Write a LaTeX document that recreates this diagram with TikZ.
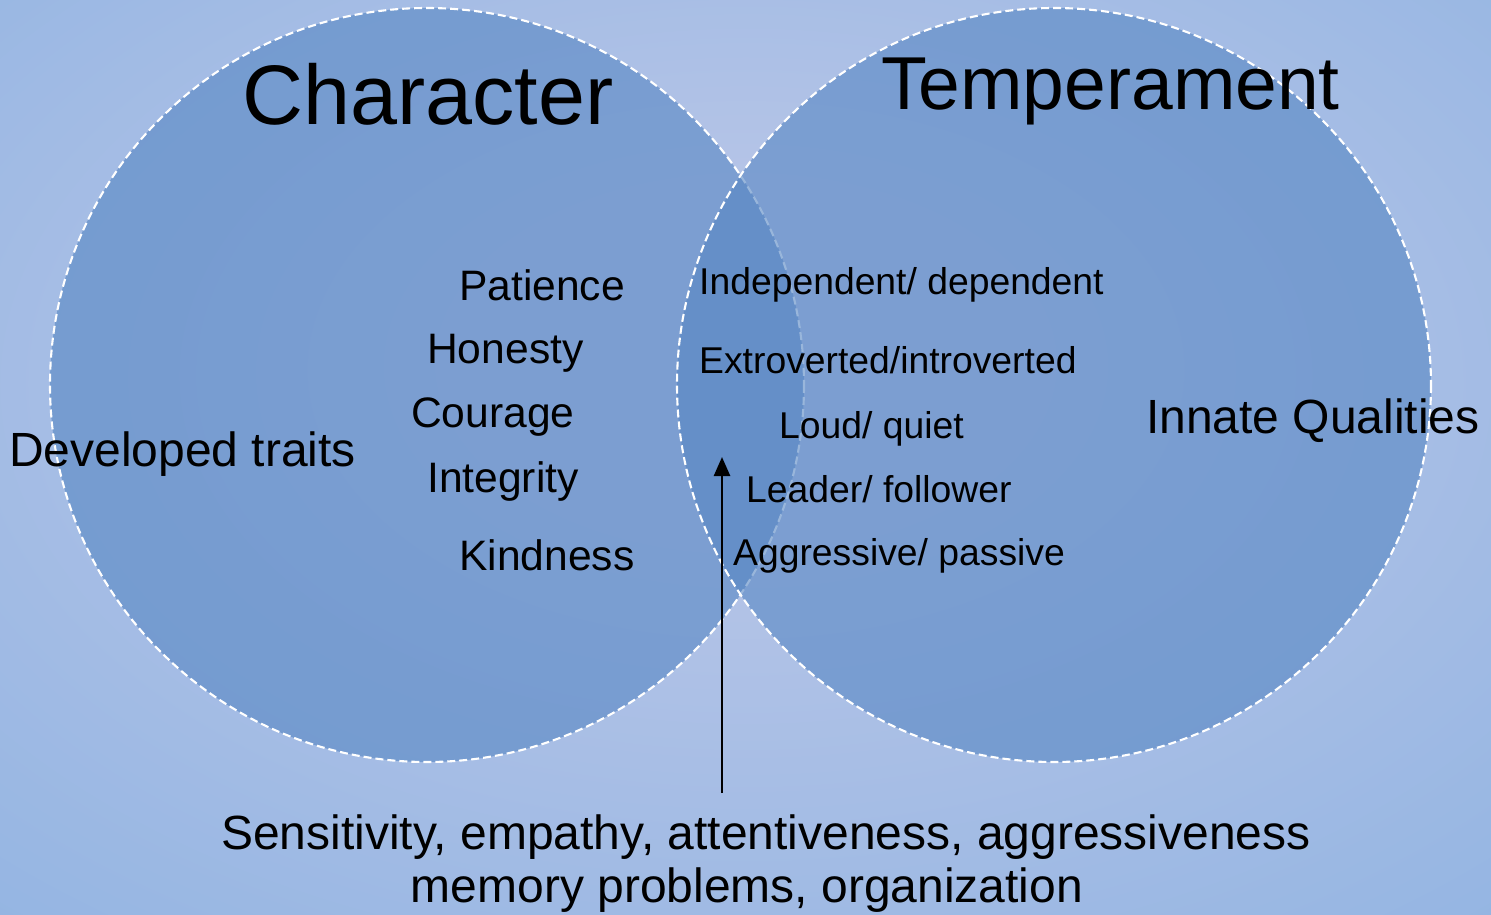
\documentclass[tikz,border=0pt]{standalone}
\usepackage{fontspec}
\setmainfont{Liberation Sans}
\usetikzlibrary{arrows.meta}

\definecolor{bgin}{RGB}{181,196,231}
\definecolor{bgout}{RGB}{146,180,226}
\definecolor{bgcorner}{RGB}{118,150,204}
\definecolor{circfill}{RGB}{86,134,195}

\pgfdeclareradialshading{slidebg}{\pgfpoint{0bp}{6bp}}{color(0bp)=(bgin); color(10bp)=(bgin); color(40bp)=(bgout); color(58bp)=(bgout); color(74bp)=(bgcorner)}

\begin{document}
\begin{tikzpicture}[x=1pt, y=-1pt,
		venn/.style={draw=white, line width=2.1pt, dash pattern=on 8pt off 4pt, fill=circfill, fill opacity=0.6},
		label/.style={inner sep=0pt, anchor=base west},
		item/.style={label, font=\fontsize{42.6}{50}\selectfont},
		quality/.style={label, font=\fontsize{37.3}{44}\selectfont}]
			\def\r{377};

			\useasboundingbox (0,0) rectangle (1491,915);
			\shade[shading=slidebg] (0,0) rectangle (1491,915);

			% the two sets
			\draw[venn] (427,385) circle (\r);
			\draw[venn] (1054,385) circle (\r);

			\node[label, font=\fontsize{84.5}{96}\selectfont] (character) at (242,125) {Character};
			\node[label, font=\fontsize{75}{84}\selectfont] (temperament) at (881,110) {Temperament};

			\node[label, font=\fontsize{48}{56}\selectfont] (developed) at (9,466) {Developed traits};
			\node[label, font=\fontsize{48}{56}\selectfont] (innate) at (1146,433) {Innate Qualities};

			\foreach \x/\y/\t [count=\i] in {459/300/Patience, 427/363/Honesty, 411/427/Courage, 427/492/Integrity, 459/570/Kindness}
			{
				\node[item] (trait\i) at (\x,\y) {\t};
			}

			\node[quality] (independent) at (699,294) {Independent/ dependent};
			\node[quality] (extroverted) at (699,373) {Extroverted/introverted};
			\node[quality] (loud) at (779,438) {Loud/ quiet};
			\node[quality] (leader) at (746,502) {Leader/ follower};
			\node[quality] (aggressive) at (733,565) {Aggressive/ passive};

			\node[inner sep=0pt, anchor=base, font=\fontsize{48}{56}\selectfont] (shared) at (766,849) {Sensitivity, empathy, attentiveness, aggressiveness};
			\node[inner sep=0pt, anchor=base, font=\fontsize{48}{56}\selectfont] (shared2) at (747,902) {memory problems, organization};

			\coordinate (arrowfoot) at (722,793);
			\coordinate (arrowtip) at (722,457);
			\draw[line width=2.6pt, -{Stealth[length=19pt, width=16pt, inset=0pt]}] (arrowfoot) -- (arrowtip);
		\end{tikzpicture}
\end{document}
